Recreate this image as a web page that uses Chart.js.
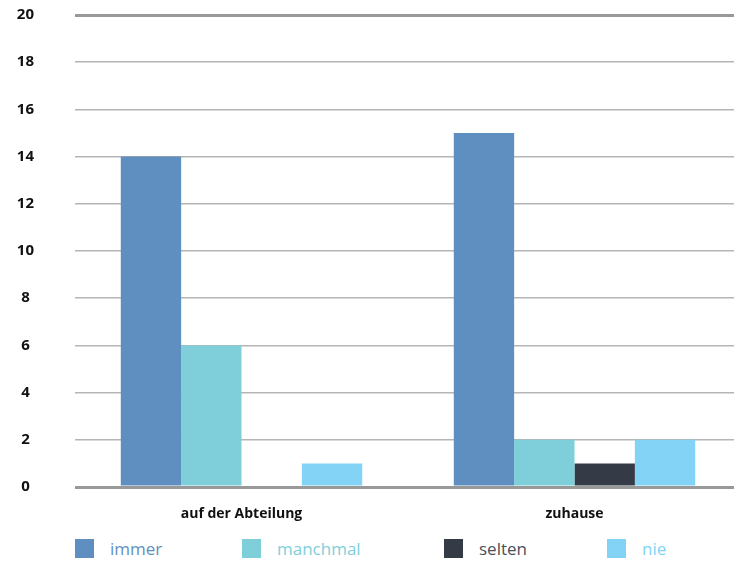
<!DOCTYPE html>
<html>
<head>
<meta charset="utf-8">
<script src="https://cdn.jsdelivr.net/npm/chart.js@4/dist/chart.umd.min.js"></script>
<style>
  html, body { margin: 0; padding: 0; background: #fff; overflow: hidden; }
  .wrap { position: relative; width: 734px; height: 564px; overflow: hidden; }
  canvas { position: absolute; left: 0; top: 0; }
  .legend { position: absolute; left: 0; top: 538px; width: 734px; height: 24px; font-family: "Open Sans", sans-serif; font-size: 17px; }
  .legend .item { position: absolute; top: 0; display: flex; align-items: center; height: 20px; }
  .legend .box { width: 19px; height: 19px; margin-right: 16px; }
</style>
</head>
<body>
<div class="wrap">
  <canvas id="chart" width="741" height="530"></canvas>
  <div class="legend" id="legend"></div>
</div>
<script>
const categories = ['auf der Abteilung', 'zuhause'];
const seriesNames = ['immer', 'manchmal', 'selten', 'nie'];
const immer = [14, 15];
const manchmal = [6, 2];
const selten = [0, 1];
const nie = [1, 2];
const colors = ['#5f8fc0', '#7ecfd9', '#343b46', '#82d3f6'];
const textColors = ['#5f8fc0', '#7ecfd9', '#4a4f57', '#82d3f6'];
const legendLeft = [75, 242, 444, 607];

const values = [immer, manchmal, selten, nie];

const datasets = seriesNames.map((name, i) => ({
  label: name,
  data: values[i],
  backgroundColor: colors[i],
  borderWidth: 0
}));

const isEdge = (ctx) => ctx.tick && (ctx.tick.value === 0 || ctx.tick.value === 20);

new Chart(document.getElementById('chart'), {
  type: 'bar',
  data: { labels: categories, datasets },
  options: {
    responsive: false,
    animation: false,
    layout: { padding: { top: 15, bottom: 0, left: 0, right: 0 } },
    datasets: { bar: { barPercentage: 1, categoryPercentage: 0.725 } },
    plugins: { legend: { display: false }, tooltip: { enabled: false } },
    scales: {
      x: {
        grid: { display: false },
        border: { display: false },
        ticks: {
          color: '#111',
          padding: 11,
          font: { family: '"Open Sans", sans-serif', size: 14, weight: 'bold' }
        },
        afterFit: (scale) => { scale.height = 43; }
      },
      y: {
        min: 0,
        max: 20,
        ticks: {
          stepSize: 2,
          color: '#111',
          crossAlign: 'center',
          padding: 41,
          font: { family: '"Open Sans", sans-serif', size: 15, weight: 'bold' }
        },
        border: { display: false },
        grid: {
          drawTicks: false,
          color: (ctx) => isEdge(ctx) ? '#999999' : '#b5b5b5',
          lineWidth: (ctx) => isEdge(ctx) ? 3 : 1.5
        },
        afterFit: (scale) => {
          // tick padding is only meant horizontally here
          scale.width = 75;
          scale.paddingTop = 8;
          scale.paddingBottom = 8;
        }
      }
    }
  }
});

// legend row below the chart
const legend = document.getElementById('legend');
seriesNames.forEach((name, i) => {
  const item = document.createElement('div');
  item.className = 'item';
  item.style.left = legendLeft[i] + 'px';
  item.innerHTML = '<span class="box" style="background:' + colors[i] + '"></span>' +
    '<span style="color:' + textColors[i] + '">' + name + '</span>';
  legend.appendChild(item);
});
</script>
</body>
</html>
